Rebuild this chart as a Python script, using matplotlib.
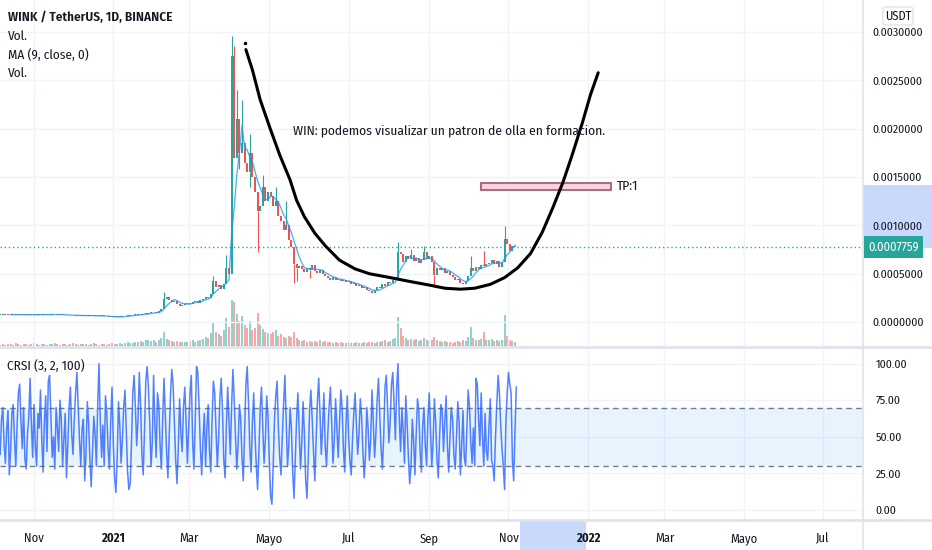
import matplotlib
matplotlib.use('Agg')
import matplotlib.pyplot as plt
import numpy as np
from matplotlib.patches import Rectangle, FancyBboxPatch
from matplotlib.lines import Line2D
from matplotlib.transforms import blended_transform_factory

plt.rcParams['font.family'] = ['Fira Sans Condensed', 'IBM Plex Sans Condensed',
                               'Encode Sans Condensed', 'Liberation Sans', 'DejaVu Sans']

# ---- data (prices in units of 1e-4 USDT, one bar = 2 days, day 0 = 2020-11-01) ----
first_day = -26
closes = [0.78,0.76,0.80,0.77,0.75,0.79,0.76,0.74,0.77,0.75,0.73,0.76,0.74,0.78,0.75,0.77,0.80,0.76,0.74,0.77,
          0.79,0.82,0.78,0.75,0.73,0.70,0.72,0.68,0.70,0.67,0.69,0.66,0.68,0.65,0.67,0.64,0.66,0.63,0.65,0.62,
          0.60,0.58,0.55,0.52,0.50,0.53,0.56,0.58,0.62,0.65,0.68,0.72,0.75,0.80,0.78,0.82,0.86,0.90,
          1.00,1.05,0.98,1.10,1.30,2.40,
          2.60,2.30,2.10,2.20,1.90,1.70,1.80,
          1.90,2.00,1.90,2.10,2.20,2.00,2.30,2.40,2.60,2.50,
          2.90,4.20,3.60,3.80,3.40,3.90,5.60,5.00,
          27.5,17.0,21.0,17.5,18.5,16.5,15.5,17.5,15.0,13.5,11.5,12.0,
          14.0,12.5,13.5,13.0,12.0,12.5,11.0,10.5,9.5,10.0,8.5,7.8,6.0,5.6,
          5.8,5.5,5.2,5.6,5.4,5.9,5.3,5.1,5.4,5.0,4.8,4.6,
          4.4,4.7,4.3,4.5,4.2,4.3,4.1,4.2,3.9,4.0,3.7,3.8,3.5,3.6,3.3,3.2,3.0,
          3.3,3.6,3.5,3.9,3.7,4.1,4.0,4.3,4.6,
          7.3,7.0,6.2,6.8,6.5,6.9,6.3,6.6,6.1,6.4,7.2,6.5,6.8,6.2,4.9,5.6,
          5.4,5.6,5.1,5.3,4.9,4.7,4.3,4.5,4.0,3.9,4.2,4.8,5.6,
          5.3,5.7,5.5,5.9,5.8,6.0,6.1,6.4,6.0,6.3,5.7,6.2,
          8.6,8.1,7.4,7.9,7.759]
first_open = 0.77
wick_high = {63: 3.1, 82: 4.8, 87: 6.9, 89: 29.6, 90: 28.6, 91: 24.0, 93: 23.0, 96: 19.5,
             101: 15.2, 106: 14.0, 110: 12.5, 153: 8.3, 158: 7.6, 163: 7.9, 181: 6.8,
             186: 7.4, 194: 9.9}
wick_low = {92: 15.8, 96: 14.0, 99: 7.3, 113: 4.0, 114: 4.2, 119: 4.6, 167: 3.7}
volume = [3,4,3,5,4,3,6,4,3,5,4,3,4,6,5,3,4,5,3,4,
          5,6,4,3,5,4,3,4,6,5,3,4,5,4,3,5,6,4,3,4,
          5,3,4,6,5,4,7,5,6,8,6,7,9,8,10,9,12,14,
          10,12,9,14,18,30,
          16,12,10,9,11,8,9,
          9,8,10,12,9,11,14,16,20,18,
          28,50,30,25,22,35,60,42,
          100,95,70,55,65,45,40,55,35,40,72,45,
          38,30,28,25,30,35,22,25,20,18,22,20,30,18,
          14,10,12,9,11,8,10,9,12,8,10,9,
          8,7,9,6,8,7,6,8,7,6,9,7,6,8,7,9,8,
          7,9,8,10,12,9,11,15,18,
          63,40,22,18,14,16,12,15,11,13,18,12,10,14,20,12,
          10,9,11,8,9,7,8,10,9,12,10,20,41,
          18,14,12,16,30,14,12,15,11,13,10,14,
          67,22,14,11,9]
# daily CRSI (3, 2, 100)
crsi = [38,62,70,45,32,55,68,24,40,66,72,48,30,58,80,86,60,42,70,35,
        28,52,64,90,58,36,72,44,30,66,56,82,48,26,60,78,40,88,92,64,
        36,50,28,70,56,40,75,62,30,48,66,22,44,70,84,52,38,62,80,94,
        70,48,30,56,62,20,38,74,60,34,16,40,64,52,30,72,100,60,36,58,
        30,78,66,42,28,60,84,46,22,12,36,74,58,32,48,70,82,54,26,14,
        18,46,80,92,70,44,62,94,72,38,24,54,88,98,84,60,30,46,92,58,
        36,80,72,44,28,62,90,66,40,22,50,78,96,86,60,34,18,42,76,52,
        40,70,84,60,32,56,80,92,48,28,60,98,94,70,42,24,48,66,30,56,
        72,40,26,62,88,80,54,30,48,76,90,68,34,22,58,84,60,38,70,96,
        76,50,28,44,72,62,36,20,54,86,98,74,42,26,60,80,52,30,14,40,
        70,84,56,32,48,78,64,34,10,4,30,62,78,88,56,36,24,50,72,92,
        60,30,44,70,56,26,8,36,62,80,54,28,46,74,52,20,8,36,68,82,
        62,40,20,48,74,90,66,38,56,80,44,30,52,70,84,60,32,48,76,56,
        36,60,82,70,42,26,58,78,50,34,24,48,66,80,58,38,52,76,64,40,
        22,38,70,56,34,48,82,60,36,52,76,90,64,42,28,50,84,92,70,46,
        60,86,94,72,48,84,100,62,40,70,54,32,78,60,36,18,30,62,48,24,
        52,76,68,40,26,58,70,44,30,62,80,54,30,46,76,60,34,22,50,72,
        68,40,60,78,44,26,50,70,62,38,28,50,74,60,24,44,68,36,30,56,
        82,70,46,32,56,30,90,86,62,44,80,50,30,66,40,34,58,76,34,30,
        20,50,72,92,80,58,42,30,14,60,80,94,86,80,34,20,54,84]
# hand drawn cup line (day, price)
cup_days = [163,168,174,182,189,197,202,208,216,224,235,247,258,274,289,305,316,328,
            339,351,362,372,382,391,399,407,414,422,428,434]
cup_price = [28.2,26.1,23.0,19.9,17.3,14.7,12.6,10.9,9.2,7.9,6.4,5.5,5.0,4.6,4.2,3.8,3.5,3.4,
             3.5,3.9,4.6,5.6,7.1,9.3,11.8,14.5,17.3,20.7,23.5,25.8]
tp_days = (344, 444)
tp_price = (13.66, 14.39)
month_days = [0, 61, 119, 181, 242, 304, 365, 426, 485, 546, 607]
month_labels = ['Nov', '2021', 'Mar', 'Mayo', 'Jul', 'Sep', 'Nov', '2022', 'Mar', 'Mayo', 'Jul']
price_ticks = [0, 5, 10, 15, 20, 25, 30]
crsi_ticks = [0, 25, 50, 75, 100]

GREEN = '#26a69a'
RED = '#ef5350'
TXT = '#131722'
GRID = '#f0f3fa'
SEP = '#e0e3eb'

W, H = 932, 550
fig = plt.figure(figsize=(W / 100, H / 100), dpi=100)

def fx(px):
    return px / W

def fy(py):
    return 1 - py / H

ax = fig.add_axes([0, fy(346), fx(863), 346 / H])
axv = ax.twinx()
axc = fig.add_axes([0, fy(520), fx(863), (520 - 348) / H])

xlim = (-26.15, 637.7)

n = len(closes)
days = first_day + 2 * np.arange(n)
c = np.array(closes)
o = np.concatenate([[first_open], c[:-1]])
up = c >= o
cols = np.where(up, GREEN, RED)

# volume (behind)
axv.bar(days, volume, width=1.4, color=cols, alpha=0.5, linewidth=0)
axv.set_ylim(0, 752)
axv.set_yticks([])
for s in axv.spines.values():
    s.set_visible(False)
ax.set_zorder(axv.get_zorder() + 1)
ax.patch.set_visible(False)

# candles
body_h = np.maximum(np.abs(c - o), 0.08)
ax.bar(days, body_h, bottom=np.minimum(o, c), width=1.5, color=cols, linewidth=0, zorder=3)
for i, hv in wick_high.items():
    ax.vlines(days[i], max(o[i], c[i]), hv, color=cols[i], lw=0.8, zorder=3)
for i, lv in wick_low.items():
    ax.vlines(days[i], lv, min(o[i], c[i]), color=cols[i], lw=0.8, zorder=3)

# MA
k = 5
ma = np.convolve(c, np.ones(k) / k, mode='valid')
ax.plot(days[k - 1:], ma, color='#2196f3', lw=1.0, alpha=0.75, zorder=4)

# last price line
ax.axhline(c[-1], color=GREEN, lw=1, ls=(0, (1, 2)), zorder=2)

# cup drawing
ax.plot(cup_days, cup_price, color='black', lw=2.2, solid_capstyle='round', zorder=6)
ax.plot([162], [28.9], 'k.', ms=3, zorder=6)
ax.text(199.2, 19.8, 'WIN: podemos visualizar un patron de olla en formacion.',
        fontsize=9.7, color=TXT, va='center', ha='left', zorder=6)

ax.add_patch(Rectangle((tp_days[0], tp_price[0]), tp_days[1] - tp_days[0], tp_price[1] - tp_price[0],
                       facecolor='#f6d6e0', edgecolor='#b06a86', lw=1.5, zorder=5))
ax.text(448.5, 14.0, 'TP:1', fontsize=9.7, color=TXT, va='center', ha='left', zorder=6)

ax.set_xlim(xlim)
ax.set_ylim(-2.48, 33.33)
ax.set_xticks(month_days)
ax.set_xticklabels([])
ax.set_yticks(price_ticks)
ax.set_yticklabels(['%.7f' % (t * 1e-4) for t in price_ticks])
ax.yaxis.tick_right()
ax.tick_params(axis='y', length=0, pad=7, labelsize=8.5, labelcolor=TXT)
ax.tick_params(axis='x', length=0)
ax.grid(True, color=GRID, lw=1, zorder=0)
ax.set_axisbelow(True)
for s in ax.spines.values():
    s.set_visible(False)

trans = blended_transform_factory(ax.transAxes, ax.transData)
ax.text(1.006, c[-1], '%.7f' % (c[-1] * 1e-4), transform=trans, fontsize=9, color='white',
        va='center', ha='left', clip_on=False, zorder=10,
        bbox=dict(boxstyle='square,pad=0.35', fc=GREEN, ec='none'))

# CRSI pane
cd = first_day + np.arange(len(crsi))
axc.axhspan(30, 70, color='#2196f3', alpha=0.1, lw=0)
axc.axhline(70, color='#787b86', lw=1, ls=(0, (4, 3)))
axc.axhline(30, color='#787b86', lw=1, ls=(0, (4, 3)))
axc.plot(cd, crsi, color='#2962ff', lw=1.1, alpha=0.8)
axc.set_xlim(xlim)
axc.set_ylim(-6.8, 110.7)
axc.set_yticks(crsi_ticks)
axc.set_yticklabels(['%.2f' % t for t in crsi_ticks])
axc.yaxis.tick_right()
axc.tick_params(axis='y', length=0, pad=9, labelsize=8.5, labelcolor=TXT)
axc.set_xticks(month_days)
axc.set_xticklabels(month_labels)
axc.tick_params(axis='x', length=0, pad=9, labelsize=9, labelcolor=TXT)
for lab in axc.get_xticklabels():
    if lab.get_text() in ('2021', '2022'):
        lab.set_fontweight('bold')
axc.grid(True, color=GRID, lw=1)
axc.set_axisbelow(True)
for s in axc.spines.values():
    s.set_visible(False)

# highlights on the scales
fig.add_artist(Rectangle((fx(863), fy(248)), fx(69), 63 / H, transform=fig.transFigure,
                         facecolor='#c9d8fb', edgecolor='none', zorder=-1))
fig.add_artist(Rectangle((fx(520), 0), fx(66), 30 / H, transform=fig.transFigure,
                         facecolor='#c9d8fb', edgecolor='none', zorder=-1))

# separators
fig.add_artist(Line2D([fx(863), fx(863)], [0, 1], color=SEP, lw=1.2))
fig.add_artist(Line2D([0, 1], [fy(347), fy(347)], color=SEP, lw=2))
fig.add_artist(Line2D([0, 1], [fy(520), fy(520)], color=SEP, lw=2))

# USDT tag
fig.add_artist(FancyBboxPatch((fx(883), fy(25)), fx(30), 18 / H, transform=fig.transFigure,
                              boxstyle='round,pad=0,rounding_size=0.004', facecolor='white',
                              edgecolor=SEP, lw=1))
fig.text(fx(898), fy(16.5), 'USDT', fontsize=9, color=TXT, ha='center', va='center')

# legends
fig.text(fx(8), fy(17), 'WINK / TetherUS, 1D, BINANCE', fontsize=9.5, color=TXT,
         fontweight='semibold', va='center')
fig.text(fx(8), fy(36), 'Vol.', fontsize=9.5, color=TXT, va='center')
fig.text(fx(8), fy(55), 'MA (9, close, 0)', fontsize=9.5, color=TXT, va='center')
fig.text(fx(8), fy(73), 'Vol.', fontsize=9.5, color=TXT, va='center')
fig.text(fx(7), fy(366), 'CRSI (3, 2, 100)', fontsize=9.5, color=TXT, va='center')

fig.savefig('out.png', dpi=100)
